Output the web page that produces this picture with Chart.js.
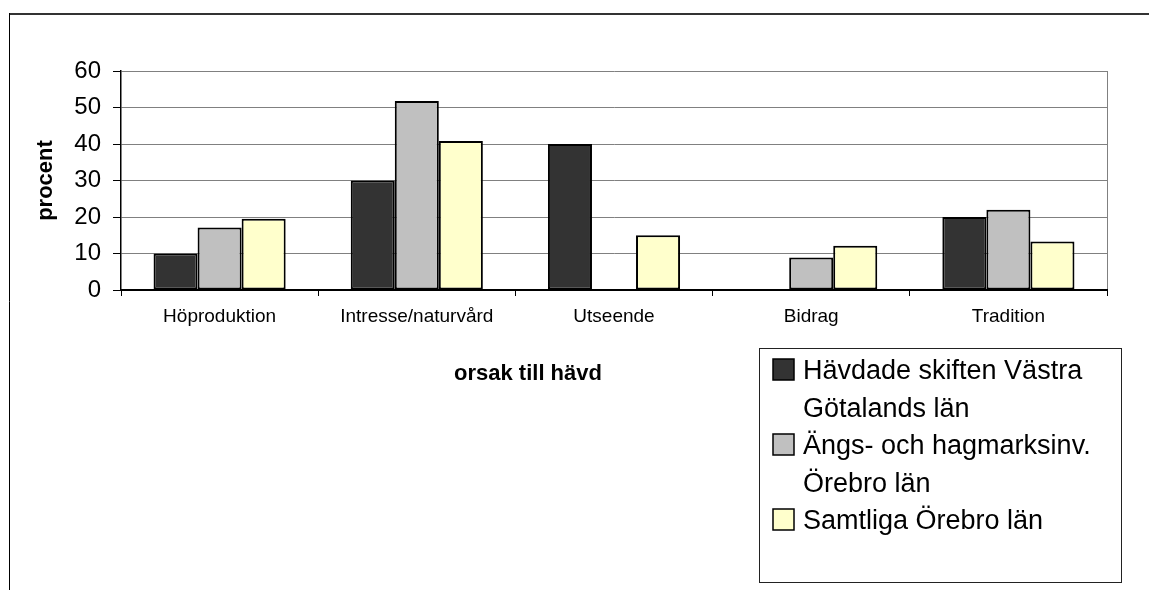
<!DOCTYPE html>
<html>
<head>
<meta charset="utf-8">
<script src="https://cdn.jsdelivr.net/npm/chart.js@4.4.1/dist/chart.umd.min.js"></script>
<style>
  body { margin: 0; background: #fff; }
  canvas { display: block; }
</style>
</head>
<body>
<canvas id="myChart" width="1149" height="590"></canvas>
<script>
const categories = ['Höproduktion', 'Intresse/naturvård', 'Utseende', 'Bidrag', 'Tradition'];
const vastraGotaland = [10, 30, 40, null, 20];
const angsHagmark = [17.1, 51.8, null, 8.9, 22];
const samtligaOrebro = [19.5, 40.8, 15, 12.1, 13.3];
const seriesNames = [
  ['Hävdade skiften Västra', 'Götalands län'],
  ['Ängs- och hagmarksinv.', 'Örebro län'],
  ['Samtliga Örebro län']
];
const seriesColors = ['#333333', '#c0c0c0', '#ffffcc'];
const yTitle = 'procent';
const xTitle = 'orsak till hävd';

const FONT = "'Liberation Sans', Arial, sans-serif";

// ram runt diagrammet + kant till höger om ritytan
const framePlugin = {
  id: 'frame',
  beforeDraw(chart) {
    const c = chart.ctx;
    c.save();
    c.fillStyle = '#fff';
    c.fillRect(0, 0, chart.width, chart.height);
    c.strokeStyle = '#333';
    c.lineWidth = 2;
    c.beginPath();
    c.moveTo(9, 14);
    c.lineTo(chart.width, 14);
    c.stroke();
    c.strokeStyle = '#000';
    c.lineWidth = 1;
    c.beginPath();
    c.moveTo(9.5, 13);
    c.lineTo(9.5, chart.height);
    c.stroke();
    const a = chart.chartArea;
    c.strokeStyle = '#808080';
    c.beginPath();
    c.moveTo(a.right + 0.5, a.top);
    c.lineTo(a.right + 0.5, a.bottom);
    c.stroke();
    c.restore();
  }
};

// x-titel och förklaring i egen ruta
const legendBoxPlugin = {
  id: 'legendBox',
  afterDraw(chart) {
    const c = chart.ctx;
    c.save();
    c.font = 'bold 22px ' + FONT;
    c.fillStyle = '#000';
    c.textAlign = 'center';
    c.textBaseline = 'alphabetic';
    c.fillText(xTitle, 528, 380);

    c.strokeStyle = '#222';
    c.lineWidth = 1;
    c.strokeRect(759.5, 348.5, 362, 234);

    c.font = '27px ' + FONT;
    c.textAlign = 'left';
    let line = 0;
    chart.data.datasets.forEach((ds, i) => {
      const base = 379 + 37.5 * line;
      c.fillStyle = ds.backgroundColor;
      c.fillRect(773, base - 20, 21, 21);
      c.strokeStyle = '#000';
      c.lineWidth = 1.5;
      c.strokeRect(773, base - 20, 21, 21);
      c.fillStyle = '#000';
      seriesNames[i].forEach(t => {
        c.fillText(t, 803, 379 + 37.5 * line);
        line++;
      });
    });
    c.restore();
  }
};

const ctx = document.getElementById('myChart').getContext('2d');
const myChart = new Chart(ctx, {
  type: 'bar',
  data: {
    labels: categories,
    datasets: [vastraGotaland, angsHagmark, samtligaOrebro].map((d, i) => ({
      label: seriesNames[i].join(' '),
      data: d,
      backgroundColor: seriesColors[i],
      borderColor: '#000',
      borderWidth: 2,
      borderSkipped: false,
      barPercentage: 1,
      categoryPercentage: 0.67
    }))
  },
  options: {
    responsive: false,
    devicePixelRatio: 1,
    animation: false,
    layout: { padding: { top: 71, right: 42, bottom: 260, left: 0 } },
    plugins: {
      legend: { display: false },
      tooltip: { enabled: false }
    },
    scales: {
      x: {
        ticks: { color: '#000', font: { family: FONT, size: 19 }, padding: 9, maxRotation: 0 },
        grid: { drawOnChartArea: false, tickLength: 6, tickColor: '#000', offset: true },
        border: { color: '#000', width: 2 },
        afterFit: s => { s.height = 40; }
      },
      y: {
        min: 0,
        max: 60,
        ticks: { stepSize: 10, color: '#000', font: { family: FONT, size: 24 }, padding: 12 },
        grid: { color: '#808080', tickColor: '#000', tickLength: 8 },
        border: { color: '#000', width: 1.5 },
        title: {
          display: true,
          text: yTitle,
          color: '#000',
          font: { family: FONT, size: 22, weight: 'bold' },
          padding: { top: 33, bottom: 0 }
        },
        afterFit: s => { s.width = 121; }
      }
    }
  },
  plugins: [framePlugin, legendBoxPlugin]
});
</script>
</body>
</html>
